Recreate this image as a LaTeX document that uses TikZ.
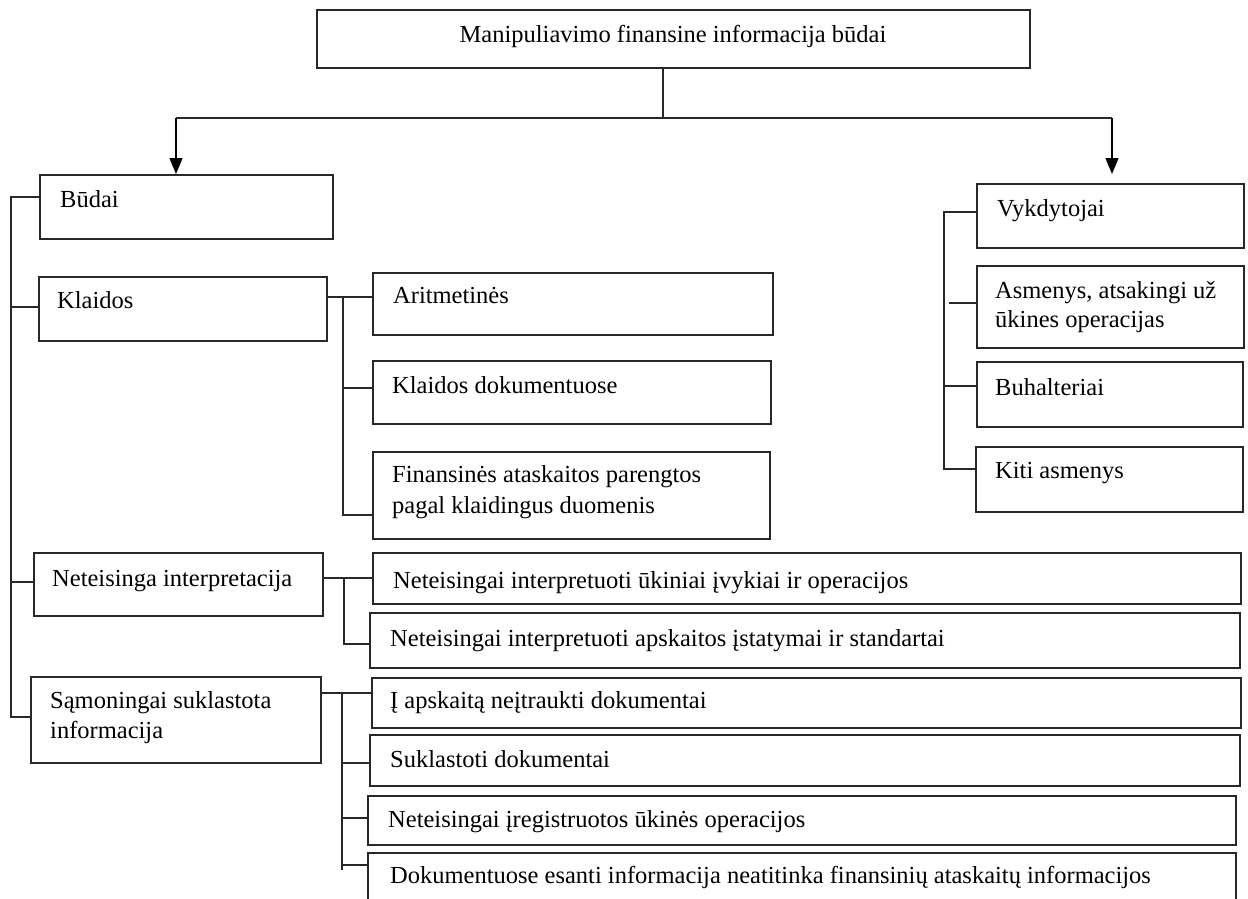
\documentclass[tikz,border=0pt]{standalone}
\usepackage{fontspec}
\setmainfont{Liberation Serif}
\usetikzlibrary{arrows.meta}
\definecolor{lc}{RGB}{40,40,40}
\newcommand\mybox[5]{\node[box, minimum width={#4-#2}, minimum height={#5-#3}] (#1) at (#2,#3) {};}
\begin{document}
\begin{tikzpicture}[x=1pt,y=-1pt,
  box/.style={draw=lc, line width=1.5pt, anchor=north west, inner sep=0pt, outer sep=0pt},
  txt/.style={font=\fontsize{24.5}{30}\selectfont, inner sep=0pt, anchor=base west, text=black},
  conn/.style={draw=lc, line width=1.5pt},
  arr/.style={-{Triangle[length=16pt,width=13pt]}, draw=black}]
\clip (0,0) rectangle (1248,898);
\fill[white] (0,0) rectangle (1248,898);

% boxes
\mybox{title}{317}{10}{1030}{68}
\mybox{budai}{40}{175}{333}{239}
\mybox{klaidos}{39}{277}{327}{341}
\mybox{netint}{34}{553}{323}{616}
\mybox{samon}{31}{677}{321}{763}
\mybox{arit}{373}{273}{773}{335}
\mybox{kldok}{373}{361}{771}{424}
\mybox{finat}{373}{452}{770}{539}
\mybox{netuk}{373}{553}{1241}{604}
\mybox{netap}{370}{613}{1240}{668}
\mybox{neitr}{372}{678}{1241}{728}
\mybox{sukl}{370}{735}{1240}{786}
\mybox{neireg}{368}{796}{1236}{845}
\mybox{dokes}{368}{853}{1236}{912}
\mybox{vykd}{977}{184}{1244}{248}
\mybox{asm}{977}{266}{1244}{348}
\mybox{buh}{977}{362}{1243}{427}
\mybox{kiti}{976}{447}{1243}{512}

% texts
\node[txt, anchor=base] (ttitle) at (673,42) {Manipuliavimo finansine informacija būdai};
\node[txt] (tbudai) at (60,207) {Būdai};
\node[txt] (tklaidos) at (57,308) {Klaidos};
\node[txt] (tnetint) at (52,586) {Neteisinga interpretacija};
\node[txt] (tsamon1) at (50,708) {Sąmoningai suklastota};
\node[txt] (tsamon2) at (50,738) {informacija};
\node[txt] (tarit) at (393,303) {Aritmetinės};
\node[txt] (tkldok) at (392,393) {Klaidos dokumentuose};
\node[txt] (tfinat1) at (392,482) {Finansinės ataskaitos parengtos};
\node[txt] (tfinat2) at (392,513) {pagal klaidingus duomenis};
\node[txt] (tnetuk) at (393,588) {Neteisingai interpretuoti ūkiniai įvykiai ir operacijos};
\node[txt] (tnetap) at (390,646) {Neteisingai interpretuoti apskaitos įstatymai ir standartai};
\node[txt] (tneitr) at (390,708) {Į apskaitą neįtraukti dokumentai};
\node[txt] (tsukl) at (390,767) {Suklastoti dokumentai};
\node[txt] (tneireg) at (388,827) {Neteisingai įregistruotos ūkinės operacijos};
\node[txt] (tdokes) at (390,883) {Dokumentuose esanti informacija neatitinka finansinių ataskaitų informacijos};
\node[txt] (tvykd) at (997,216) {Vykdytojai};
\node[txt] (tasm1) at (995,298) {Asmenys, atsakingi už};
\node[txt] (tasm2) at (995,327) {ūkines operacijas};
\node[txt] (tbuh) at (995,395) {Buhalteriai};
\node[txt] (tkiti) at (995,478) {Kiti asmenys};

% top connectors
\coordinate (tb) at (663,118);
\coordinate (hl) at (176,118);
\coordinate (hr) at (1112,118);
\coordinate (al) at (176,174);
\coordinate (ar) at (1112,174);
\draw[conn] (title.south -| tb) -- (tb);
\draw[conn] (hl) -- (hr);
\draw[conn, arr] (hl) -- (al);
\draw[conn, arr] (hr) -- (ar);

% left trunk
\coordinate (lt1) at (11,197);
\coordinate (lt2) at (11,307);
\coordinate (lt3) at (11,582);
\coordinate (lt4) at (11,717);
\draw[conn] (budai.west |- lt1) -- (lt1) -- (lt4) -- (lt4 -| samon.west);
\draw[conn] (lt2) -- (lt2 -| klaidos.west);
\draw[conn] (lt3) -- (lt3 -| netint.west);

% Klaidos sub
\coordinate (k0) at (343,297);
\coordinate (k2) at (343,388);
\coordinate (k3) at (343,515);
\draw[conn] (klaidos.east |- k0) -- (k0 -| arit.west);
\draw[conn] (k0) -- (k3) -- (k3 -| finat.west);
\draw[conn] (k2) -- (k2 -| kldok.west);

% Neteisinga sub
\coordinate (n0) at (344,578);
\coordinate (n1) at (344,644);
\draw[conn] (netint.east |- n0) -- (n0 -| netuk.west);
\draw[conn] (n0) -- (n1) -- (n1 -| netap.west);

% Samoningai sub
\coordinate (s0) at (342,693);
\coordinate (s2) at (342,763);
\coordinate (s3) at (342,818);
\coordinate (s4) at (342,865);
\coordinate (s5) at (342,870);
\draw[conn] (samon.east |- s0) -- (s0 -| neitr.west);
\draw[conn] (s0) -- (s5);
\draw[conn] (s2) -- (s2 -| sukl.west);
\draw[conn] (s3) -- (s3 -| neireg.west);
\draw[conn] (s4) -- (s4 -| dokes.west);

% right trunk
\coordinate (r1) at (944,212);
\coordinate (r2) at (949,303);
\coordinate (r3) at (944,386);
\coordinate (r4) at (944,469);
\draw[conn] (vykd.west |- r1) -- (r1) -- (r4) -- (r4 -| kiti.west);
\draw[conn] (r2) -- (r2 -| asm.west);
\draw[conn] (r3) -- (r3 -| buh.west);
\end{tikzpicture}
\end{document}
